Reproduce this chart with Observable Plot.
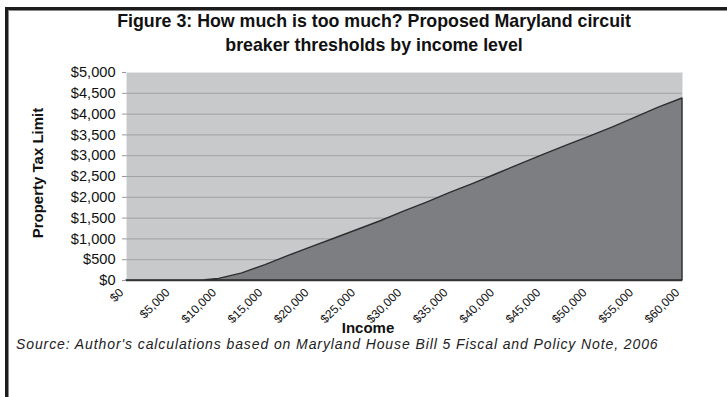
<!DOCTYPE html>
<html>
<head>
<meta charset="utf-8">
<script src="https://cdn.jsdelivr.net/npm/d3@7"></script>
<script src="https://cdn.jsdelivr.net/npm/@observablehq/plot@0.6"></script>
<style>
  html, body { margin: 0; padding: 0; background: #fff; width: 727px; height: 397px; overflow: hidden; }
  #wrap { position: relative; width: 727px; height: 397px; font-family: "Liberation Sans", Arial, sans-serif; }
  #frame { position: absolute; left: 5px; top: 7px; width: 800px; height: 500px; border: 3px solid #1c1c1c; box-shadow: inset 1px 1px 0 #8a8a8a; }
  #chart { position: absolute; left: 0; top: 0; }
  .t { position: absolute; color: #111; white-space: nowrap; }
  #title { left: 0; width: 748px; top: 9px; text-align: center; font-weight: bold; font-size: 17.8px; line-height: 24px; }
  #ylab { left: 37px; top: 173px; font-weight: bold; font-size: 15px; transform: translate(-50%, -50%) rotate(-90deg); }
  #xlab { left: 0; width: 736px; top: 319px; text-align: center; font-weight: bold; font-size: 15px; }
  #src { left: 16px; top: 336px; font-style: italic; font-size: 14px; letter-spacing: 0.9px; color: #222; }
</style>
</head>
<body>
<div id="wrap">
  <div id="frame"></div>
  <div id="chart"></div>
  <div class="t" id="title">Figure 3: How much is too much? Proposed Maryland circuit<br>breaker thresholds by income level</div>
  <div class="t" id="ylab">Property Tax Limit</div>
  <div class="t" id="xlab">Income</div>
  <div class="t" id="src">Source: Author's calculations based on Maryland House Bill 5 Fiscal and Policy Note, 2006</div>
</div>
<script>
// Income levels (dollars)
const income = [0, 2500, 5000, 7500, 8500, 10000, 12500, 15000, 17500, 20000, 22500, 25000, 27500, 30000,
  32500, 35000, 37500, 40000, 42500, 45000, 47500, 50000, 52500, 55000, 57500, 60000];
// Property tax limit (dollars)
const taxLimit = [0, 0, 0, 0, 10, 40, 170, 370, 590, 800, 1010, 1220, 1430, 1660,
  1880, 2110, 2330, 2560, 2790, 3020, 3240, 3460, 3680, 3920, 4160, 4375];
// Axis tick values
const xTicks = [0, 5000, 10000, 15000, 20000, 25000, 30000, 35000, 40000, 45000, 50000, 55000, 60000];
const yTicks = [0, 500, 1000, 1500, 2000, 2500, 3000, 3500, 4000, 4500, 5000];
const gridTicks = yTicks.slice(1, -1);

const data = income.map((x, i) => ({income: x, limit: taxLimit[i]}));
const fmt = d3.format("$,");

const chart = Plot.plot({
  width: 727,
  height: 397,
  marginTop: 72,
  marginBottom: 117,
  marginLeft: 126,
  marginRight: 45,
  style: {background: "transparent", fontFamily: "Liberation Sans, Arial, sans-serif", color: "#111"},
  x: {domain: [0, 60000], axis: null},
  y: {domain: [0, 5000]},
  marks: [
    Plot.frame({fill: "#c8c9cb", stroke: "#e6e6e6"}),
    Plot.ruleY(gridTicks, {stroke: "#a2a2a4", strokeWidth: 1}),
    Plot.areaY(data, {x: "income", y: "limit", fill: "#7d7e82", stroke: "#2e2e2e", strokeWidth: 1.4}),
    Plot.ruleY([0], {stroke: "#333", strokeWidth: 1.5}),
    Plot.axisY({ticks: yTicks, tickFormat: fmt, tickSize: 4, tickPadding: 7, stroke: "#999", fontSize: 14.6, label: null}),
    Plot.text(xTicks, {x: d => d, y: () => 0, text: d => fmt(d), rotate: -45, textAnchor: "end",
      fontSize: 12, fill: "#111", dx: -5, dy: 10})
  ]
});
document.getElementById("chart").appendChild(chart);
</script>
</body>
</html>
